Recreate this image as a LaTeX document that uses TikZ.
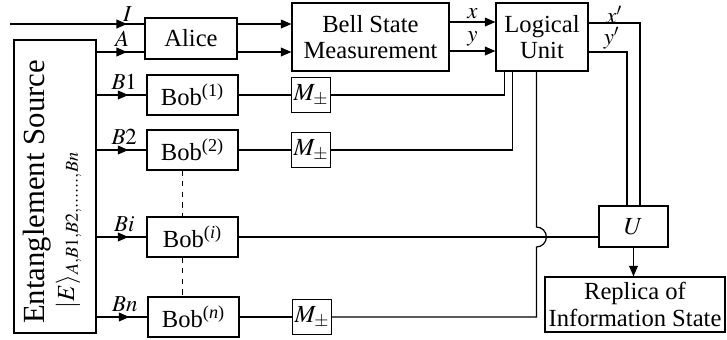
\documentclass[tikz,border=0pt]{standalone}
\usepackage{mathptmx}
\usepackage{fontspec}
\setmainfont{Liberation Serif}
\usetikzlibrary{positioning, calc, arrows.meta, decorations.markings}

\tikzset{
  >={Triangle[length=6pt,width=5pt]},
  blk/.style={draw, inner sep=1pt, align=center},
  bobbox/.style={blk, minimum width=1.82cm, minimum height=0.8cm},
  mbox/.style={blk, minimum width=0.76cm, minimum height=0.7cm},
  lab/.style={font=\fontsize{13}{13}\selectfont, inner sep=2.5pt},
  midarrow/.style={postaction={decorate},
    decoration={markings, mark=at position -0.36cm with {\arrow{>}}}}
}

\begin{document}
\begin{tikzpicture}[x=0.02cm, y=-0.02cm, line width=0.7pt, font=\fontsize{14}{15}\selectfont]
  \useasboundingbox (0,0) rectangle (727,339);

  % Source
  \node[draw, line width=1.3pt, minimum width=1.64cm, minimum height=5.86cm] (src) at (55,186.5) {};
  \node[rotate=90, font=\fontsize{17.5}{18}\selectfont] (srctitle) at (37,192) {Entanglement Source};
  \node[rotate=90, anchor=base] (srcstate) at (74,230) {$|E\rangle_{A,B1,B2,\ldots\ldots,Bn}$};

  % Blocks
  \node[blk, minimum width=1.84cm, minimum height=0.82cm] (alice) at (191,38.5) {Alice};
  \node[blk, minimum width=3.14cm, minimum height=1.36cm] (bsm) at (370.5,37) {Bell State\\Measurement};
  \node[blk, minimum width=1.84cm, minimum height=1.36cm] (lu) at (542,37) {Logical\\Unit};

  \node[bobbox] (bob1) at (192.5,95) {Bob\textsuperscript{(1)}};
  \node[bobbox] (bob2) at (192.5,150) {Bob\textsuperscript{(2)}};
  \node[bobbox] (bobi) at (192.5,237) {Bob\textsuperscript{(\textit{i})}};
  \node[bobbox] (bobn) at (193.5,317) {Bob\textsuperscript{(\textit{n})}};

  \node[mbox] (m1) at (311,95) {$M_{\pm}$};
  \node[mbox] (m2) at (311,150) {$M_{\pm}$};
  \node[mbox] (mn) at (312,317) {$M_{\pm}$};

  \node[blk, minimum width=1.38cm, minimum height=0.82cm] (u) at (633.5,226.5) {$U$};
  \node[blk, minimum width=3.6cm, minimum height=1.1cm] (rep) at (635,304.5) {Replica of\\Information State};

  % Inputs to Alice
  \coordinate (iStart) at (10,24);
  \coordinate (iIn) at (145,24);
  \coordinate (aIn) at (145,52);
  \draw[midarrow] (iStart) -- node[lab, above, pos=0.87, inner sep=1pt] {$I$} (iIn);
  \draw[midarrow] (src.east |- aIn) -- node[lab, above, pos=0.52] {$A$} (aIn);

  % Source to Bobs
  \draw[midarrow] (src.east |- bob1) -- node[lab, above, pos=0.55] {$B1$} (bob1.west);
  \draw[midarrow] (src.east |- bob2) -- node[lab, above, pos=0.55] {$B2$} (bob2.west);
  \draw[midarrow] (src.east |- bobi) -- node[lab, above, pos=0.55] {$Bi$} (bobi.west);
  \draw[midarrow] (src.east |- bobn) -- node[lab, above, pos=0.55] {$Bn$} (bobn.west);

  \draw[dashed] ([xshift=-0.2cm]bob2.south) -- ([xshift=-0.2cm]bobi.north);
  \draw[dashed] ([xshift=-0.2cm]bobi.south) -- ([xshift=-0.22cm]bobn.north);

  % Alice to BSM to logical unit
  \coordinate (xRow) at (0,22);
  \coordinate (yRow) at (0,51);
  \draw[->] (iIn -| alice.east) -- (iIn -| bsm.west);
  \draw[->] (aIn -| alice.east) -- (aIn -| bsm.west);
  \draw[->] (bsm.east |- xRow) -- node[lab, above, inner sep=1.5pt] {$x$} (lu.west |- xRow);
  \draw[->] (bsm.east |- yRow) -- node[lab, above] {$y$} (lu.west |- yRow);

  % Measurements to logical unit
  \draw (bob1) -- (m1);
  \draw (bob2) -- (m2);
  \draw (bobn) -- (mn);
  \draw (m1.east) -| ([xshift=0.18cm]lu.south west);
  \draw (m2.east) -| ([xshift=0.34cm]lu.south west);
  \draw ([xshift=0.82cm]lu.south west) coordinate (vtop)
    -- ($(vtop |- bobi.east)+(0,-10)$) arc[start angle=90, end angle=-90, radius=0.2cm]
    -- (vtop |- mn) -- (mn.east);
  \draw (bobi.east) -- (bobi.east -| u.west);

  % Logical unit to U
  \draw ([yshift=0.28cm]lu.east) -| node[lab, above, pos=0.25, inner sep=0pt, yshift=-1pt] {$x'$} ([xshift=0.13cm]u.north);
  \draw ([yshift=-0.3cm]lu.east) -| node[lab, above, pos=0.3, inner sep=1pt] {$y'$} ([xshift=-0.13cm]u.north);
  \draw[->] (u.south) -- (u.south |- rep.north);
\end{tikzpicture}
\end{document}
